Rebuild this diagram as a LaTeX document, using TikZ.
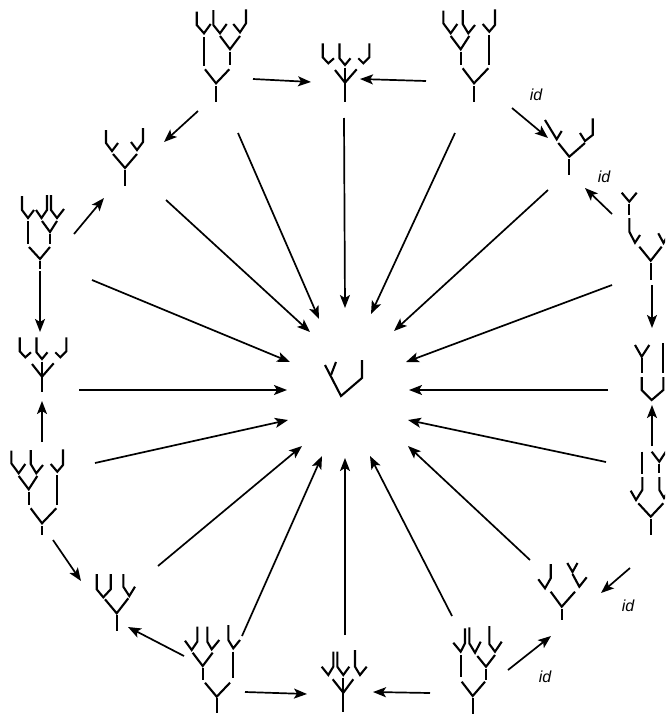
\documentclass[tikz,border=0pt]{standalone}
\usepackage{fontspec}
\setmainfont{Liberation Sans}
\usetikzlibrary{arrows.meta}
\tikzset{
  tr/.style={line width=2.1pt, line cap=butt, line join=miter},
  arr/.style={line width=1.7pt, -{Stealth[length=13pt,width=10pt,inset=3pt]}},
  idl/.style={font=\fontsize{16}{18}\selectfont\itshape, inner sep=0pt}
}
\newcommand\Arr[3]{\coordinate (#1s) at (#2); \coordinate (#1e) at (#3); \draw[arr] (#1s) -- (#1e);}
\begin{document}
\begin{tikzpicture}[x=1pt,y=-1pt]
\useasboundingbox (0,0) rectangle (665,715);
\clip (0,0) rectangle (665,715);
% tree 1
\draw[tr] (196.7,11.7)--(196.7,25)--(204,33.3)--(210.7,24);
\draw[tr] (213.3,10)--(213.3,25)--(220,33.3)--(226.7,24);
\draw[tr] (246,9.3)--(246,23.3)--(240,32.3)--(233.3,24);
\draw[tr] (220,36)--(230,49.3)--(240,36);
\draw[tr] (230,51.7)--(230,65);
\draw[tr] (204,37.3)--(204,66);
\draw[tr] (205,69.3)--(216,83.3)--(229.3,69.3);
\draw[tr] (216,86)--(216,101.7);
% tree 2
\draw[tr] (322.7,43.3)--(322.7,57.3)--(328.3,63.3)--(334,58.3);
\draw[tr] (339.5,43.3)--(339.5,58.3)--(345,65)--(350.5,58.3);
\draw[tr] (369.3,43.3)--(369.3,57.3)--(363.3,63.3)--(358.3,58.3);
\draw[tr] (335,70)--(345,82.7)--(356.7,69.3);
\draw[tr] (345,67.5)--(345,101.7);
% tree 3
\draw[tr] (443.3,10.7)--(443.3,23.3)--(450.7,33.3)--(457.3,24);
\draw[tr] (462.7,10)--(462.7,24)--(468.3,33.3)--(475,25);
\draw[tr] (495,9.3)--(495,25)--(489.3,31.7)--(482.7,24);
\draw[tr] (489.3,35)--(489.3,65);
\draw[tr] (450.7,36)--(460.7,49.3)--(469.3,36);
\draw[tr] (460.7,51.7)--(460.7,65);
\draw[tr] (462.7,68.3)--(474,83.3)--(488.3,68.3);
\draw[tr] (474,86)--(474,101.7);
% tree 4
\draw[tr] (545,120)--(556.7,139.3)--(561.7,131);
\draw[tr] (592.7,118.3)--(592.7,135)--(585,141)--(580,133);
\draw[tr] (558.3,143)--(569.3,156.7)--(585,143);
\draw[tr] (569.3,159.3)--(569.3,175);
% tree 5
\draw[tr] (621.7,192.7)--(629.3,201.7)--(636.7,192.7);
\draw[tr] (629.3,203.5)--(629.3,215);
\draw[tr] (629.3,218)--(629.3,231.7)--(635,242.7)--(640,235);
\draw[tr] (658.3,233.3)--(663.5,243)--(668,235);
\draw[tr] (639.3,246.7)--(650.7,260.7)--(661.7,246.7);
\draw[tr] (650.7,263.3)--(650.7,280);
% tree 6
\draw[tr] (635,345)--(641.7,356.7)--(649.3,345);
\draw[tr] (641.7,358.3)--(641.7,373.3);
\draw[tr] (641.7,377)--(641.7,390)--(651.7,400)--(663.3,390)--(663.3,377);
\draw[tr] (663.3,343.3)--(663.3,373.3);
% tree 7
\draw[tr] (642.3,451.7)--(642.3,474);
\draw[tr] (642.3,477)--(642.3,490)--(636,500)--(630.7,490.7);
\draw[tr] (651.7,451.7)--(659.3,461.7)--(667,450);
\draw[tr] (659.3,463.5)--(659.3,473);
\draw[tr] (659.3,477)--(659.3,490)--(664,498)--(669,490);
\draw[tr] (638.3,503.3)--(650.7,516.7)--(663.3,503.3);
\draw[tr] (650.7,518.5)--(650.7,535);
% tree 8
\draw[tr] (550.7,564)--(550.7,578.3)--(545,588.3)--(538.3,579.3);
\draw[tr] (567.3,563)--(572.5,572)--(577.5,563);
\draw[tr] (572.5,574)--(579.3,586.7)--(586.7,577.3);
\draw[tr] (550.7,591.7)--(561.7,606.7)--(575,591.7);
\draw[tr] (561.7,608.5)--(561.7,620);
% tree 9
\draw[tr] (465,628.3)--(465,643.3)--(460.7,651.7)--(453.3,642.7);
\draw[tr] (469.3,627.3)--(469.3,643.3)--(475,652.7)--(480.7,641.7);
\draw[tr] (489.3,626)--(489.3,644)--(495,651.7)--(501.7,641.7);
\draw[tr] (477.3,656)--(486,666.7)--(495,655);
\draw[tr] (486,668.5)--(486,680);
\draw[tr] (460.7,655)--(460.7,677.3);
\draw[tr] (461.7,681.7)--(472.7,696)--(485,681.7);
\draw[tr] (472.7,698.3)--(472.7,714);
% tree 10
\draw[tr] (333.3,651.7)--(333.3,666.7)--(328.3,675)--(321.7,666.7);
\draw[tr] (337.3,651.7)--(337.3,666.7)--(343.3,675)--(349.3,666.7);
\draw[tr] (355,650)--(355,666.7)--(360,675)--(366.7,666.7);
\draw[tr] (332.7,679.3)--(343.3,692.7)--(353.3,679.3);
\draw[tr] (343.3,677.5)--(343.3,711.7);
% tree 11
\draw[tr] (197.3,626.7)--(197.3,641.7)--(191.7,650)--(185,640.7);
\draw[tr] (207.3,626.7)--(207.3,641.7)--(211.7,649.3)--(219.3,640);
\draw[tr] (228.3,625)--(228.3,640)--(233.3,648.3)--(240,640);
\draw[tr] (192.7,652.7)--(202.7,666)--(212.7,652.7);
\draw[tr] (202.7,668.3)--(202.7,680);
\draw[tr] (233.3,651.7)--(233.3,678.3);
\draw[tr] (205,682.7)--(216.7,696.7)--(230,682.7);
\draw[tr] (216.7,698.3)--(216.7,713.3);
% tree 12
\draw[tr] (96.7,574)--(96.7,589.3)--(103.3,597.3)--(110.7,589.3)--(110.7,574);
\draw[tr] (123.3,574)--(123.3,586.7)--(129.3,596)--(135,586.7);
\draw[tr] (105,599.3)--(116.7,613.3)--(128.3,598.3);
\draw[tr] (116.7,615)--(116.7,630.7);
% tree 13
\draw[tr] (11.3,450.7)--(11.3,463.3)--(18.7,473.3)--(25.3,464);
\draw[tr] (30.7,450)--(30.7,464)--(36.3,473.3)--(43,465);
\draw[tr] (63,449.3)--(63,465)--(57.3,471.7)--(50.7,464);
\draw[tr] (57.3,475)--(57.3,505);
\draw[tr] (18.7,476)--(28.7,489.3)--(37.3,476);
\draw[tr] (28.7,491.7)--(28.7,505);
\draw[tr] (30.7,508.3)--(42,523.3)--(56.3,508.3);
\draw[tr] (42,526)--(42,535);
% tree 14
\draw[tr] (19.7,337.3)--(19.7,351.3)--(25.3,357.3)--(31,352.3);
\draw[tr] (36.5,337.3)--(36.5,352.3)--(42,359)--(47.5,352.3);
\draw[tr] (66.3,337.3)--(66.3,351.3)--(60.3,357.3)--(55.3,352.3);
\draw[tr] (32,364)--(42,376.7)--(53.7,363.3);
\draw[tr] (42,361.5)--(42,392);
% tree 15
\draw[tr] (22,196)--(22,210)--(28,218)--(34,210);
\draw[tr] (47,195)--(47,210)--(41.5,218)--(36,210);
\draw[tr] (51,195)--(51,210)--(57,218)--(64,209);
\draw[tr] (42,221)--(50,232)--(57,221);
\draw[tr] (50,234)--(50,244);
\draw[tr] (28,221)--(28,244);
\draw[tr] (29,247)--(40,259)--(50,247);
\draw[tr] (40,261)--(40,269);
% tree 16
\draw[tr] (106,130)--(106,143)--(112,151)--(118,143);
\draw[tr] (143,128)--(143,142)--(137,150)--(131,142);
\draw[tr] (113,154)--(125,168)--(137,154);
\draw[tr] (125,170)--(125,186);
% centre tree
\draw[tr] (325,365)--(341,396)--(362,378)--(362,360);
\draw[tr] (336,362)--(331,375);
% cycle arrows
\Arr{c1}{253,79}{311,82}
\Arr{c2}{426,81}{360,79}
\Arr{c3}{198,111}{164,142}
\Arr{c4}{74,234}{104,198}
\Arr{c5}{40,271}{40,332}
\Arr{c6}{42,442}{42,401}
\Arr{c7}{53,540}{81,581}
\Arr{c8}{184,656}{128,627}
\Arr{c9}{245,692}{307,694}
\Arr{c10}{430,693}{373,692}
\Arr{c11}{508,670}{551,636}
\Arr{c12}{630,568}{601,593}
\Arr{c13}{652,446}{652,405}
\Arr{c14}{652,285}{652,328}
\Arr{c15}{612,214}{585,188}
\Arr{c16}{512,108}{548,138}
% radial arrows
\Arr{r1}{344,118}{345,308}
\Arr{r2}{238,133}{319,319}
\Arr{r3}{455,133}{371,314}
\Arr{r4}{166,200}{310,332}
\Arr{r5}{548,190}{394,331}
\Arr{r6}{92,280}{290,362}
\Arr{r7}{612,285}{406,362}
\Arr{r8}{79,390}{287,390}
\Arr{r9}{608,390}{409,390}
\Arr{r10}{95,463}{288,420}
\Arr{r11}{606,462}{408,420}
\Arr{r12}{158,566}{302,446}
\Arr{r13}{530,560}{408,446}
\Arr{r14}{242,636}{322,456}
\Arr{r15}{452,616}{370,456}
\Arr{r16}{345,635}{345,458}
% labels
\node[idl] (id1) at (536,95) {id};
\node[idl] (id2) at (604,177) {id};
\node[idl] (id3) at (628,606) {id};
\node[idl] (id4) at (545,677) {id};
\end{tikzpicture}
\end{document}
